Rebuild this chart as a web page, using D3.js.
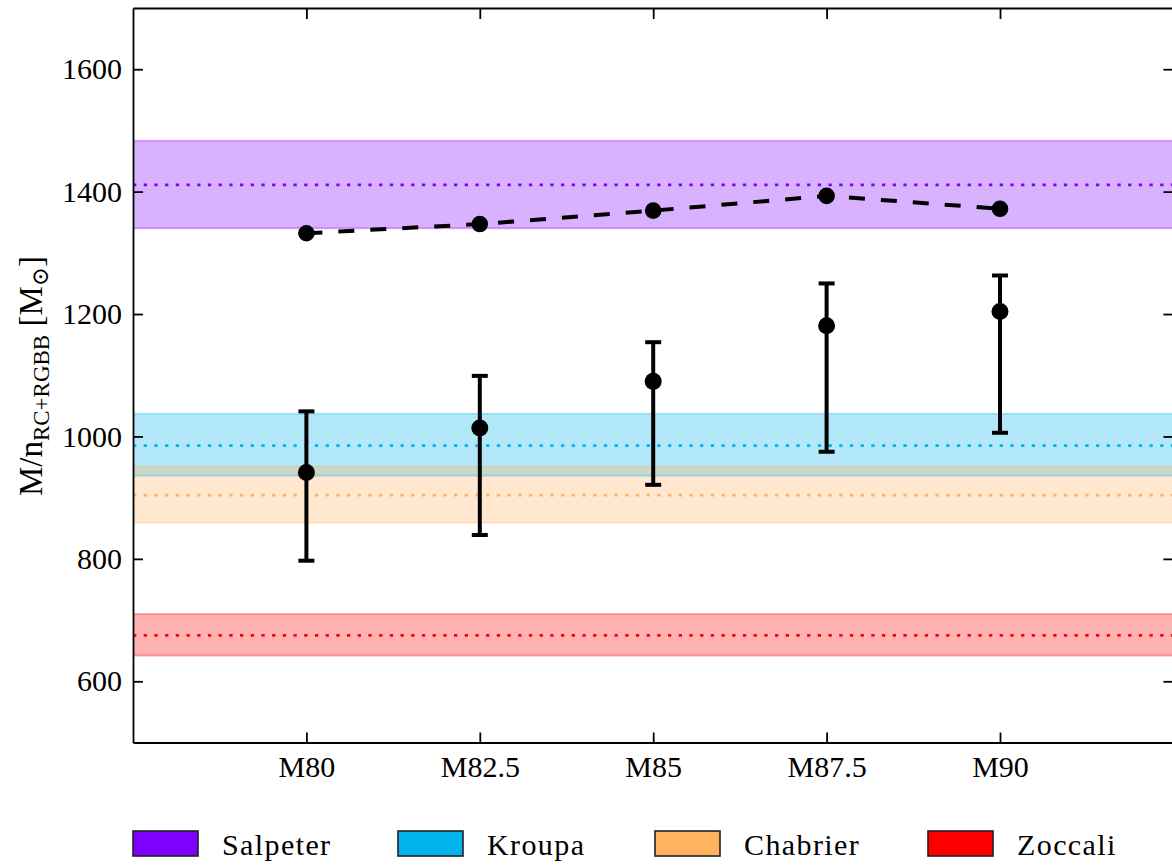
<!DOCTYPE html>
<html>
<head>
<meta charset="utf-8">
<script src="https://cdn.jsdelivr.net/npm/d3@7"></script>
<style>
  html, body { margin: 0; padding: 0; background: #fff; }
  svg { display: block; }
  text { font-family: "Liberation Serif", "DejaVu Serif", serif; fill: #000; }
</style>
</head>
<body>
<svg id="chart" width="1172" height="865"></svg>
<script>
// Stellar population models along the x axis
const categories = ["M80", "M82.5", "M85", "M87.5", "M90"];

// Dashed series (upper curve)
const dashedValues = [1332, 1347, 1369, 1393, 1372];

// Measured points with asymmetric error bars
const pointValues = [941, 1014, 1090, 1181, 1204];
const pointLow    = [797, 839, 921, 975, 1006];
const pointHigh   = [1041, 1099, 1154, 1250, 1263];

// IMF reference bands: centre value and band limits
const imfNames  = ["Salpeter", "Kroupa", "Chabrier", "Zoccali"];
const imfCenter = [1411, 985, 904, 675];
const imfLow    = [1340, 936, 859, 642];
const imfHigh   = [1483, 1037, 951, 710];
const imfColors = ["#8000ff", "#00b4eb", "#ffb360", "#ff0000"];

const yTicks = [600, 800, 1000, 1200, 1400, 1600];
const yDomain = [500, 1700];

const svg = d3.select("#chart");
const plotLeft = 133, plotRight = 1173.4, plotTop = 8, plotBottom = 742.5;

const x = d3.scalePoint().domain(categories).range([plotLeft, plotRight]).padding(1);
const y = d3.scaleLinear().domain(yDomain).range([plotBottom, plotTop]);

const plot = svg.append("g");

// Bands: translucent fill with a translucent edge line on top
const bands = imfNames.map((name, i) => ({
  name, color: imfColors[i], c: imfCenter[i], lo: imfLow[i], hi: imfHigh[i]
}));

plot.selectAll("rect.band").data(bands).join("rect")
  .attr("class", "band")
  .attr("x", plotLeft).attr("width", plotRight - plotLeft)
  .attr("y", d => y(d.hi)).attr("height", d => y(d.lo) - y(d.hi))
  .attr("fill", d => d.color).attr("fill-opacity", 0.3);

bands.forEach(d => {
  [d.lo, d.hi].forEach(v => {
    plot.append("line")
      .attr("x1", plotLeft).attr("x2", plotRight)
      .attr("y1", y(v)).attr("y2", y(v))
      .attr("stroke", d.color).attr("stroke-opacity", 0.3)
      .attr("stroke-width", 2);
  });
});

// Dotted centre lines
plot.selectAll("line.center").data(bands).join("line")
  .attr("class", "center")
  .attr("x1", plotLeft).attr("x2", plotRight)
  .attr("y1", d => y(d.c)).attr("y2", d => y(d.c))
  .attr("stroke", d => d.color)
  .attr("stroke-width", 2.8)
  .attr("stroke-dasharray", "3.3,7.4");

// Error bars
const pts = categories.map((c, i) => ({ c, v: pointValues[i], lo: pointLow[i], hi: pointHigh[i] }));
const capHalf = 8;
const eb = plot.append("g").attr("stroke", "#000").attr("stroke-width", 4);
pts.forEach(d => {
  const cx = x(d.c);
  eb.append("line").attr("x1", cx).attr("x2", cx).attr("y1", y(d.lo)).attr("y2", y(d.hi));
  eb.append("line").attr("x1", cx - capHalf).attr("x2", cx + capHalf).attr("y1", y(d.lo)).attr("y2", y(d.lo));
  eb.append("line").attr("x1", cx - capHalf).attr("x2", cx + capHalf).attr("y1", y(d.hi)).attr("y2", y(d.hi));
});
plot.selectAll("circle.pt").data(pts).join("circle")
  .attr("class", "pt")
  .attr("cx", d => x(d.c)).attr("cy", d => y(d.v)).attr("r", 8.5)
  .attr("fill", "#000");

// Dashed series with markers
const dashed = categories.map((c, i) => ({ c, v: dashedValues[i] }));
plot.append("path")
  .attr("d", d3.line().x(d => x(d.c)).y(d => y(d.v))(dashed))
  .attr("fill", "none").attr("stroke", "#000")
  .attr("stroke-width", 4).attr("stroke-dasharray", "16,16");
plot.selectAll("circle.dm").data(dashed).join("circle")
  .attr("class", "dm")
  .attr("cx", d => x(d.c)).attr("cy", d => y(d.v)).attr("r", 8.3)
  .attr("fill", "#000");

// Axes with inward ticks on all four sides
const fontSize = 30;
function styleAxis(g) {
  g.select(".domain").attr("stroke", "#000").attr("stroke-width", 1.8);
  g.selectAll(".tick line").attr("stroke", "#000").attr("stroke-width", 1.8);
  g.selectAll(".tick text")
    .attr("fill", "#000")
    .style("font-family", '"Liberation Serif", serif')
    .style("font-size", fontSize + "px");
}

svg.append("g").attr("transform", `translate(${plotLeft},0)`)
  .call(d3.axisLeft(y).tickValues(yTicks).tickSize(-10).tickSizeOuter(0).tickPadding(11).tickFormat(d3.format("d")))
  .call(styleAxis);

svg.append("g").attr("transform", `translate(${plotRight},0)`)
  .call(d3.axisRight(y).tickValues(yTicks).tickSize(-10).tickSizeOuter(0).tickFormat(""))
  .call(styleAxis);

svg.append("g").attr("transform", `translate(0,${plotBottom})`)
  .call(d3.axisBottom(x).tickSize(-10).tickSizeOuter(0).tickPadding(13))
  .call(styleAxis);

svg.append("g").attr("transform", `translate(0,${plotTop})`)
  .call(d3.axisTop(x).tickSize(-11).tickSizeOuter(0).tickFormat(""))
  .call(styleAxis);

// Y axis label: M / n_{RC+RGBB} [M_⊙]
const ylab = svg.append("text")
  .attr("transform", `translate(42,376) rotate(-90)`)
  .attr("text-anchor", "middle")
  .style("font-size", "33px");
ylab.append("tspan").text("M/n");
ylab.append("tspan").attr("dy", 7).style("font-size", "23px").text("RC+RGBB");
ylab.append("tspan").attr("dy", -7).text(" [M");
ylab.append("tspan").attr("dy", 6).style("font-size", "23px").text("⊙");
ylab.append("tspan").attr("dy", -6).text("]");

// Legend
const legendX = [133, 398, 655, 928];
const leg = svg.append("g");
bands.forEach((d, i) => {
  leg.append("rect")
    .attr("x", legendX[i]).attr("y", 831)
    .attr("width", 65).attr("height", 25)
    .attr("fill", d.color).attr("stroke", "#222").attr("stroke-width", 1.6);
  leg.append("text")
    .attr("x", legendX[i] + 89).attr("y", 855)
    .style("font-size", "30px")
    .style("letter-spacing", "1.4px")
    .text(d.name);
});
</script>
</body>
</html>
